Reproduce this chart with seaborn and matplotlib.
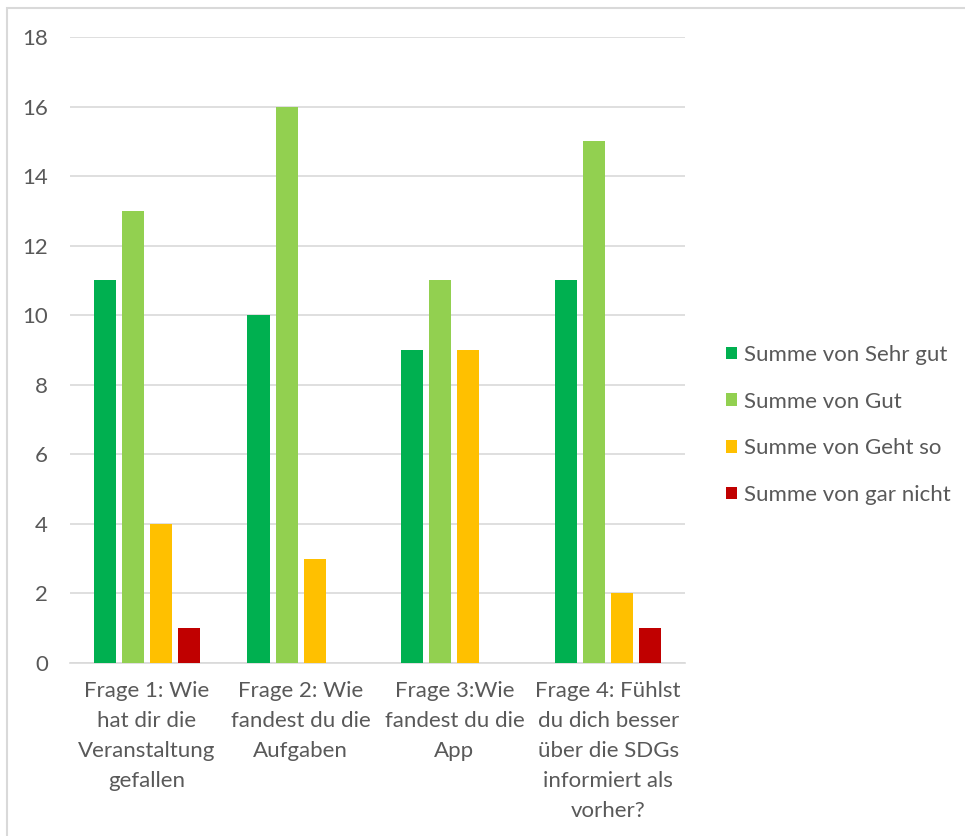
import matplotlib
matplotlib.use("Agg")
import matplotlib.pyplot as plt
from matplotlib.patches import Rectangle, Patch
import seaborn as sns
import pandas as pd

questions = [
    "Frage 1: Wie\nhat dir die\nVeranstaltung\ngefallen",
    "Frage 2: Wie\nfandest du die\nAufgaben",
    "Frage 3:Wie\nfandest du die\nApp",
    "Frage 4: Fühlst\ndu dich besser\nüber die SDGs\ninformiert als\nvorher?",
]
series = ["Summe von Sehr gut", "Summe von Gut", "Summe von Geht so", "Summe von gar nicht"]
sehr_gut = [11, 10, 9, 11]
gut = [13, 16, 11, 15]
geht_so = [4, 3, 9, 2]
gar_nicht = [1, 0, 0, 1]
colors = ["#00B050", "#92D050", "#FFC000", "#C00000"]
yticks = [0, 2, 4, 6, 8, 10, 12, 14, 16, 18]

rows = []
for name, vals in zip(series, [sehr_gut, gut, geht_so, gar_nicht]):
    for q, v in zip(questions, vals):
        rows.append({"Frage": q, "Antwort": name, "Anzahl": v})
df = pd.DataFrame(rows)

sns.set_style("white")
plt.rcParams["font.family"] = ["Lato", "DejaVu Sans"]
text_color = "#595959"
grid_color = "#D9D9D9"
fs = 16

fig = plt.figure(figsize=(9.65, 8.36), dpi=100)
ax = fig.add_axes([70 / 965, 1 - 663 / 836, 615 / 965, 626 / 836])

sns.barplot(data=df, x="Frage", y="Anzahl", hue="Antwort", order=questions,
            hue_order=series, palette=colors, width=0.73, gap=0.21,
            saturation=1, legend=False, linewidth=0, ax=ax, zorder=3)

ax.set_ylim(0, 18)
ax.set_xlim(-0.5, 3.5)
ax.set_yticks(yticks)
ax.set_yticklabels([str(t) for t in yticks])
ax.yaxis.grid(True, color=grid_color, linewidth=1.2, zorder=0)
ax.set_axisbelow(True)
for side in ["top", "right", "left"]:
    ax.spines[side].set_visible(False)
ax.spines["bottom"].set_color(grid_color)
ax.spines["bottom"].set_linewidth(1.2)
ax.set_xlabel("")
ax.set_ylabel("")
ax.tick_params(axis="both", length=0, colors=text_color, labelsize=fs)
ax.tick_params(axis="y", pad=16)
ax.tick_params(axis="x", pad=13)
for lbl in ax.get_xticklabels():
    lbl.set_linespacing(1.62)
    lbl.set_horizontalalignment("center")

handles = [Patch(facecolor=c, edgecolor="none") for c in colors]
leg = fig.legend(handles, series, loc="center left",
                 bbox_to_anchor=(726 / 965, 1 - 425 / 836), frameon=False,
                 fontsize=fs, handlelength=0.5, handleheight=0.5,
                 handletextpad=0.3, labelspacing=1.2,
                 borderpad=0, borderaxespad=0)
for t in leg.get_texts():
    t.set_color(text_color)

# outer chart frame
fig.patches.append(Rectangle((7 / 965, -0.05), 1.1, 1 - 8 / 836 + 0.05,
                             transform=fig.transFigure, fill=False,
                             edgecolor=grid_color, linewidth=1.5))

fig.savefig("out.png", dpi=100)
